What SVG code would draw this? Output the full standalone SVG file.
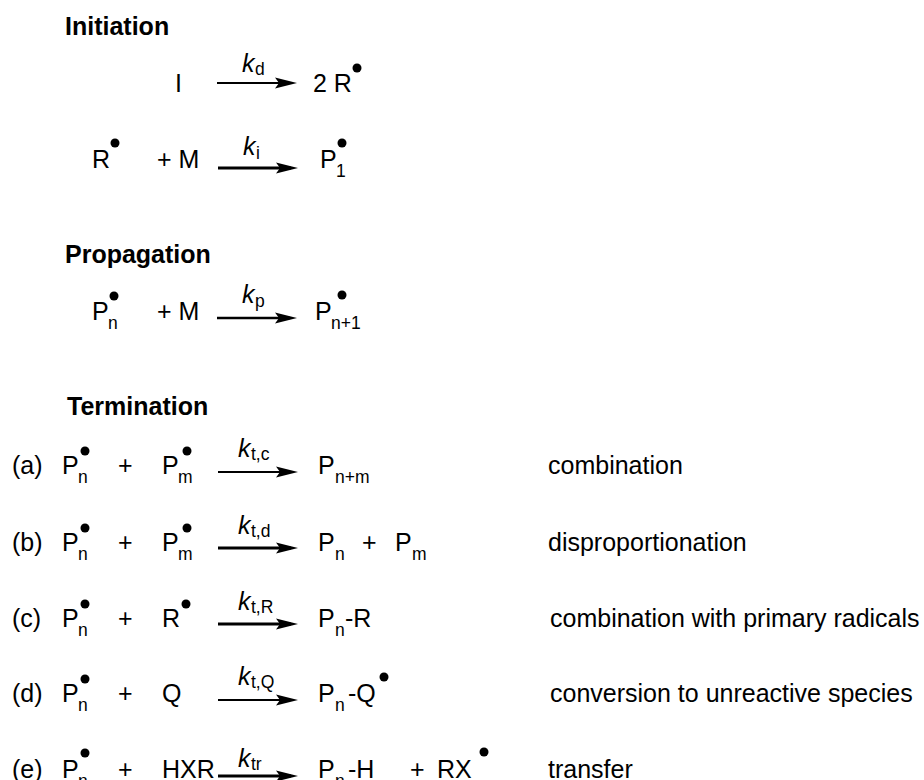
<svg xmlns="http://www.w3.org/2000/svg" width="924" height="780" viewBox="0 0 924 780">
<style>
text{font-family:"Liberation Sans",Arial,Helvetica,sans-serif;font-size:25px;fill:#000}
.h{font-weight:bold}
.s{font-size:17.5px}
.k{font-style:italic}
.dot{fill:#000}
.arr{stroke:#000;fill:none}
</style>
<defs>
<marker id="ah" markerUnits="userSpaceOnUse" markerWidth="26" markerHeight="14" refX="15" refY="7" orient="auto">
<path d="M0,1.5 L22,7 L0,12.5 L4,7 Z" fill="#000"/>
</marker>
</defs>
<rect width="924" height="780" fill="#fff"/>

<g id="heading-initiation"><text class="h" x="65" y="35">Initiation</text></g>
<g id="heading-propagation"><text class="h" x="65" y="263">Propagation</text></g>
<g id="heading-termination"><text class="h" x="67" y="415">Termination</text></g>

<g id="init1">
<text x="175" y="92">I</text>
<text class="k" x="242" y="72">k</text><text class="s" x="255" y="75">d</text>
<text x="313" y="92">2 R</text><circle class="dot" cx="357" cy="68" r="4.5"/>
</g>

<g id="init2">
<text x="92" y="168">R</text><circle class="dot" cx="115" cy="143" r="4.5"/>
<text x="157" y="168">+ M</text>
<text class="k" x="243" y="155">k</text><text class="s" x="256" y="159">i</text>
<text x="320" y="168">P</text><text class="s" x="336" y="177">1</text><circle class="dot" cx="342" cy="143" r="4.5"/>
</g>

<g id="prop">
<text x="92" y="320">P</text><text class="s" x="108" y="329">n</text><circle class="dot" cx="114" cy="296" r="4.5"/>
<text x="157" y="320">+ M</text>
<text class="k" x="242" y="303">k</text><text class="s" x="255" y="307">p</text>
<text x="315" y="320">P</text><text class="s" x="331" y="329">n+1</text><circle class="dot" cx="342" cy="295" r="4.5"/>
</g>

<g id="term-a">
<text x="12" y="474">(a)</text>
<text x="62" y="474">P</text><text class="s" x="78" y="483">n</text><circle class="dot" cx="85" cy="451" r="4.5"/>
<text x="118" y="474">+</text>
<text x="162" y="474">P</text><text class="s" x="178" y="483">m</text><circle class="dot" cx="187" cy="451" r="4.5"/>
<text class="k" x="238" y="457">k</text><text class="s" x="251" y="460">t,c</text>
<text x="318" y="474">P</text><text class="s" x="335" y="483">n+m</text>
<text x="548" y="474">combination</text>
</g>

<g id="term-b">
<text x="12" y="551">(b)</text>
<text x="62" y="551">P</text><text class="s" x="78" y="560">n</text><circle class="dot" cx="85" cy="528" r="4.5"/>
<text x="118" y="551">+</text>
<text x="162" y="551">P</text><text class="s" x="178" y="560">m</text><circle class="dot" cx="187" cy="528" r="4.5"/>
<text class="k" x="238" y="534">k</text><text class="s" x="251" y="537">t,d</text>
<text x="318" y="551">P</text><text class="s" x="335" y="560">n</text>
<text x="362" y="551">+</text>
<text x="395" y="551">P</text><text class="s" x="412" y="560">m</text>
<text x="548" y="551">disproportionation</text>
</g>

<g id="term-c">
<text x="12" y="627">(c)</text>
<text x="62" y="627">P</text><text class="s" x="78" y="636">n</text><circle class="dot" cx="85" cy="604" r="4.5"/>
<text x="118" y="627">+</text>
<text x="162" y="627">R</text><circle class="dot" cx="186" cy="604" r="4.5"/>
<text class="k" x="238" y="610">k</text><text class="s" x="251" y="613">t,R</text>
<text x="318" y="627">P</text><text class="s" x="335" y="636">n</text><text x="345" y="627">-R</text>
<text x="550" y="627">combination with primary radicals</text>
</g>

<g id="term-d">
<text x="12" y="702">(d)</text>
<text x="62" y="702">P</text><text class="s" x="78" y="711">n</text><circle class="dot" cx="85" cy="679" r="4.5"/>
<text x="118" y="702">+</text>
<text x="162" y="702">Q</text>
<text class="k" x="238" y="685">k</text><text class="s" x="251" y="688">t,Q</text>
<text x="318" y="702">P</text><text class="s" x="335" y="711">n</text><text x="348" y="702">-Q</text><circle class="dot" cx="384" cy="677" r="4.5"/>
<text x="550" y="702">conversion to unreactive species</text>
</g>

<g id="term-e">
<text x="12" y="778">(e)</text>
<text x="62" y="778">P</text><text class="s" x="78" y="787">n</text><circle class="dot" cx="85" cy="753" r="4.5"/>
<text x="118" y="778">+</text>
<text x="162" y="778">HXR</text>
<text class="k" x="238" y="767">k</text><text class="s" x="251" y="770">tr</text>
<text x="318" y="778">P</text><text class="s" x="335" y="787">n</text><text x="348" y="778">-H</text>
<text x="410" y="778">+</text>
<text x="437" y="778">RX</text><circle class="dot" cx="484" cy="752" r="4.5"/>
<text x="548" y="778">transfer</text>
</g>

<g id="connectors">
<line class="arr" x1="217" y1="83" x2="290" y2="83" stroke-width="2" marker-end="url(#ah)"/>
<line class="arr" x1="218" y1="168" x2="291" y2="168" stroke-width="3" marker-end="url(#ah)"/>
<line class="arr" x1="217" y1="318" x2="290" y2="318" stroke-width="2.5" marker-end="url(#ah)"/>
<line class="arr" x1="218" y1="472" x2="291" y2="472" stroke-width="2" marker-end="url(#ah)"/>
<line class="arr" x1="218" y1="548" x2="291" y2="548" stroke-width="3" marker-end="url(#ah)"/>
<line class="arr" x1="218" y1="624" x2="291" y2="624" stroke-width="3" marker-end="url(#ah)"/>
<line class="arr" x1="218" y1="700" x2="291" y2="700" stroke-width="2" marker-end="url(#ah)"/>
<line class="arr" x1="218" y1="776" x2="291" y2="776" stroke-width="3" marker-end="url(#ah)"/>
</g>
</svg>
